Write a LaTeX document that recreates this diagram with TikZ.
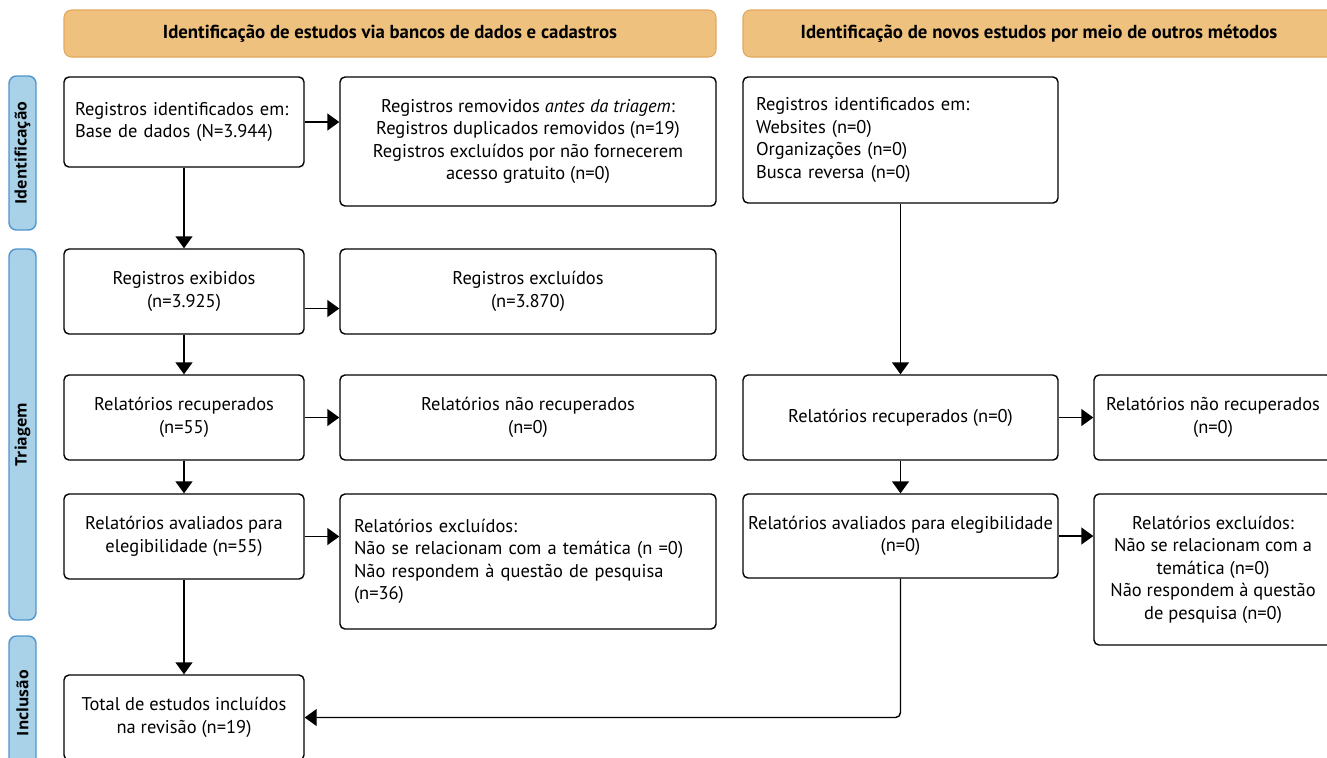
\documentclass[tikz,border=0pt]{standalone}
\usepackage{fontspec}
\setmainfont{PT Sans}
\newfontfamily\sidefont{Open Sans}
\usetikzlibrary{arrows.meta}

\definecolor{hdrfill}{HTML}{EEC17E}
\definecolor{hdrline}{HTML}{E3A85E}
\definecolor{sidefill}{HTML}{A9D2E8}
\definecolor{sideline}{HTML}{4F95CC}

\begin{document}
\begin{tikzpicture}[
    font=\fontsize{10.5}{12.8}\selectfont,
    box/.style={draw, rounded corners=1mm, line width=0.8pt, align=center, inner sep=0.28cm},
    lbox/.style={box, align=left, text width=#1},
    hdr/.style={draw=hdrline, fill=hdrfill, rounded corners=1.5mm, line width=0.6pt,
      minimum height=0.94cm, font=\bfseries\fontsize{10.7}{13}\selectfont},
    side/.style={draw=sideline, fill=sidefill, rounded corners=1.5mm, line width=0.8pt,
      rotate=90, minimum height=0.54cm, inner sep=0pt, font=\sidefont\bfseries\fontsize{9}{11}\selectfont},
    arr/.style={line width=0.8pt, -{Triangle[length=0.24cm, width=0.34cm]}}
  ]
  \useasboundingbox (0,0) rectangle (26.54,-15.14);

  \node[hdr, minimum width=13.04cm] (h1) at (7.8,-0.67) {Identificação de estudos via bancos de dados e cadastros};
  \node[hdr, minimum width=11.84cm] (h2) at (20.78,-0.67) {Identificação de novos estudos por meio de outros métodos};

  \node[side, minimum width=3.08cm] (s1) at (0.45,-3.06) {Identificação};
  \node[side, minimum width=7.42cm] (s2) at (0.45,-8.69) {Triagem};
  \node[side, minimum width=2.68cm] (s3) at (0.45,-14.06) {Inclusão};

  \node[lbox=4.36cm, minimum height=1.8cm, inner sep=0.22cm] (ident) at (3.68,-2.44)
    {Registros identificados em:\\Base de dados (N=3.944)};
  \node[box, minimum width=7.52cm, minimum height=2.58cm] (removed) at (10.56,-2.83)
    {Registros removidos \textit{antes da triagem}:\\Registros duplicados removidos (n=19)\\Registros excluídos por não fornecerem\\acesso gratuito (n=0)};
  \node[lbox=5.78cm, minimum height=2.52cm, inner sep=0.26cm] (otherid) at (18.01,-2.8)
    {Registros identificados em:\\Websites (n=0)\\Organizações (n=0)\\Busca reversa (n=0)};

  \node[box, minimum width=4.8cm, minimum height=1.7cm] (shown) at (3.68,-5.83)
    {Registros exibidos\\(n=3.925)};
  \node[box, minimum width=7.52cm, minimum height=1.7cm] (excl) at (10.56,-5.83)
    {Registros excluídos\\(n=3.870)};

  \node[box, minimum width=4.8cm, minimum height=1.7cm] (retr) at (3.68,-8.35)
    {Relatórios recuperados\\(n=55)};
  \node[box, minimum width=7.52cm, minimum height=1.7cm] (notretr) at (10.56,-8.35)
    {Relatórios não recuperados\\(n=0)};
  \node[box, minimum width=6.3cm, minimum height=1.7cm] (oretr) at (18.01,-8.35)
    {Relatórios recuperados (n=0)};
  \node[box, minimum width=4.76cm, minimum height=1.7cm, inner xsep=0.05cm] (onotretr) at (24.26,-8.35)
    {Relatórios não recuperados\\(n=0)};

  \node[box, minimum width=4.8cm, minimum height=1.7cm] (elig) at (3.68,-10.73)
    {Relatórios avaliados para\\elegibilidade (n=55)};
  \node[lbox=6.96cm, minimum height=2.7cm] (rexcl) at (10.56,-11.23)
    {Relatórios excluídos:\\Não se relacionam com a temática (n =0)\\Não respondem à questão de pesquisa\\(n=36)};
  \node[box, minimum width=6.3cm, minimum height=1.68cm, inner xsep=0.05cm] (oelig) at (18.01,-10.72)
    {Relatórios avaliados para elegibilidade\\(n=0)};
  \node[box, minimum width=4.76cm, minimum height=3.02cm, inner xsep=0.05cm] (orexcl) at (24.26,-11.39)
    {Relatórios excluídos:\\Não se relacionam com a\\temática (n=0)\\Não respondem à questão\\de pesquisa (n=0)};

  \node[box, minimum width=4.8cm, minimum height=1.7cm] (incl) at (3.68,-14.35)
    {Total de estudos incluídos\\na revisão (n=19)};

  \draw[arr] (ident) -- (removed.west |- ident);
  \draw[arr] (ident) -- (shown);
  \draw[arr] ([yshift=-0.34cm]shown.east) -- ([yshift=-0.34cm]shown.east -| excl.west);
  \draw[arr] (shown) -- (retr);
  \draw[arr] (retr) -- (notretr);
  \draw[arr] (retr) -- (elig);
  \draw[arr] (elig) -- (elig.east -| rexcl.west);
  \draw[arr] (elig) -- (incl);
  \draw[arr] (otherid) -- (oretr);
  \draw[arr] (oretr) -- (onotretr);
  \draw[arr] (oretr) -- (oelig);
  \draw[arr] (oelig) -- (oelig.east -| orexcl.west);
  \draw[arr, rounded corners=1mm] (oelig.south) |- (incl.east);
\end{tikzpicture}
\end{document}
